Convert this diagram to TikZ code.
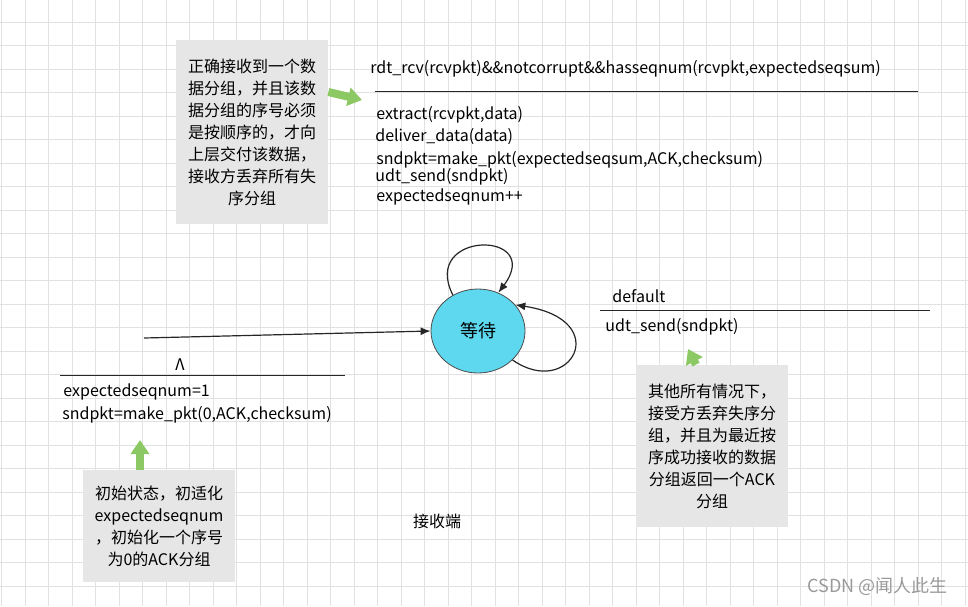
\documentclass[tikz,border=0pt]{standalone}
\usepackage{fontspec}
\setmainfont{Noto Sans CJK SC}
\usetikzlibrary{arrows.meta, positioning, shapes.geometric}
\definecolor{notegray}{RGB}{230, 230, 230}
\definecolor{statecyan}{RGB}{94, 216, 238}
\definecolor{hintgreen}{RGB}{140, 200, 100}
\definecolor{gridgray}{RGB}{225, 225, 225}
\tikzset{
  notebox/.style={fill=notegray, text width=68pt, align=center, inner sep=4pt, font=\fontsize{8pt}{11pt}\selectfont},
  lbl/.style={anchor=west, inner sep=0pt, font=\fontsize{8pt}{10pt}\selectfont},
  hint/.style={-{Triangle[width=9pt,length=7pt]}, line width=4pt, hintgreen},
  trans/.style={-{Latex[length=5pt,width=4pt]}, semithick, black!85},
}
\begin{document}
\begin{tikzpicture}[x=0.5pt, y=-0.5pt]
  \useasboundingbox (0,0) rectangle (968,606);
  % background grid
  \foreach \gx in {1.5,25,...,968} \draw[gridgray, line width=0.5pt] (\gx,0) -- (\gx,606);
  \foreach \gy in {22.2,45.7,...,606} \draw[gridgray, line width=0.5pt] (0,\gy) -- (968,\gy);

  % state
  \node[ellipse, draw=black!70, fill=statecyan, minimum width=47pt, minimum height=42pt, font=\fontsize{9pt}{10pt}\selectfont] (wait) at (478,331) {等待};

  % top note and accept transition
  \node[notebox, minimum height=92pt] (noteok) at (252,132) {正确接收到一个数\\据分组，并且该数\\据分组的序号必须\\是按顺序的，才向\\上层交付该数据，\\接收方丢弃所有失\\序分组};
  \node[lbl] (okguard) at (370,69) {rdt\_rcv(rcvpkt)\&\&notcorrupt\&\&hasseqnum(rcvpkt,expectedseqsum)};
  \coordinate (okbarL) at (375,91);
  \coordinate (okbarR) at (918,91);
  \draw[black!85] (okbarL) -- (okbarR);
  \node[lbl] (ok1) at (376,115) {extract(rcvpkt,data)};
  \node[lbl] (ok2) at (375,137) {deliver\_data(data)};
  \node[lbl] (ok3) at (376,160) {sndpkt=make\_pkt(expectedseqsum,ACK,checksum)};
  \node[lbl] (ok4) at (375,177) {udt\_send(sndpkt)};
  \node[lbl] (ok5) at (376,197) {expectedseqnum++};
  \coordinate (okhint) at (362,100);
  \draw[hint] (noteok.east |- 0,92) -- (okhint);

  % self loops
  \draw[trans] (wait.125) .. controls (420,230) and (545,230) .. (wait.62);
  \draw[trans] (wait.-40) .. controls (570,400) and (615,320) .. (wait.35);

  % initial transition
  \coordinate (start) at (144,338);
  \draw[trans] (start) -- (wait.west);
  \node[font=\fontsize{8pt}{10pt}\selectfont, inner sep=0pt] (initguard) at (180,365) {Λ};
  \coordinate (initbarL) at (60,375);
  \coordinate (initbarR) at (345,375);
  \draw[black!85] (initbarL) -- (initbarR);
  \node[lbl] (init1) at (63,392) {expectedseqnum=1};
  \node[lbl] (init2) at (62,415) {sndpkt=make\_pkt(0,ACK,checksum)};
  \node[notebox, minimum height=56pt] (noteinit) at (159,526) {初始状态，初适化\\expectedseqnum\\，初始化一个序号\\为0的ACK分组};
  \coordinate (inithint) at (140,440);
  \draw[hint] (noteinit.north -| inithint) -- (inithint);

  % default transition
  \node[lbl] (defguard) at (612,296) {default};
  \coordinate (defbarL) at (600,310);
  \coordinate (defbarR) at (930,310);
  \draw[black!85] (defbarL) -- (defbarR);
  \node[lbl] (def1) at (605,327) {udt\_send(sndpkt)};
  \node[notebox, minimum height=81pt] (notedef) at (712,446) {其他所有情况下，\\接受方丢弃失序分\\组，并且为最近按\\序成功接收的数据\\分组返回一个ACK\\分组};
  \coordinate (defhint) at (688,349);
  \draw[hint] (notedef.north -| 696,0) -- (defhint);

  % captions
  \node[font=\fontsize{8pt}{10pt}\selectfont] (side) at (437,521) {接收端};
  \node[font=\fontsize{9pt}{10pt}\selectfont, text=black!40, anchor=east] (mark) at (955,586) {CSDN @闻人此生};
\end{tikzpicture}
\end{document}
